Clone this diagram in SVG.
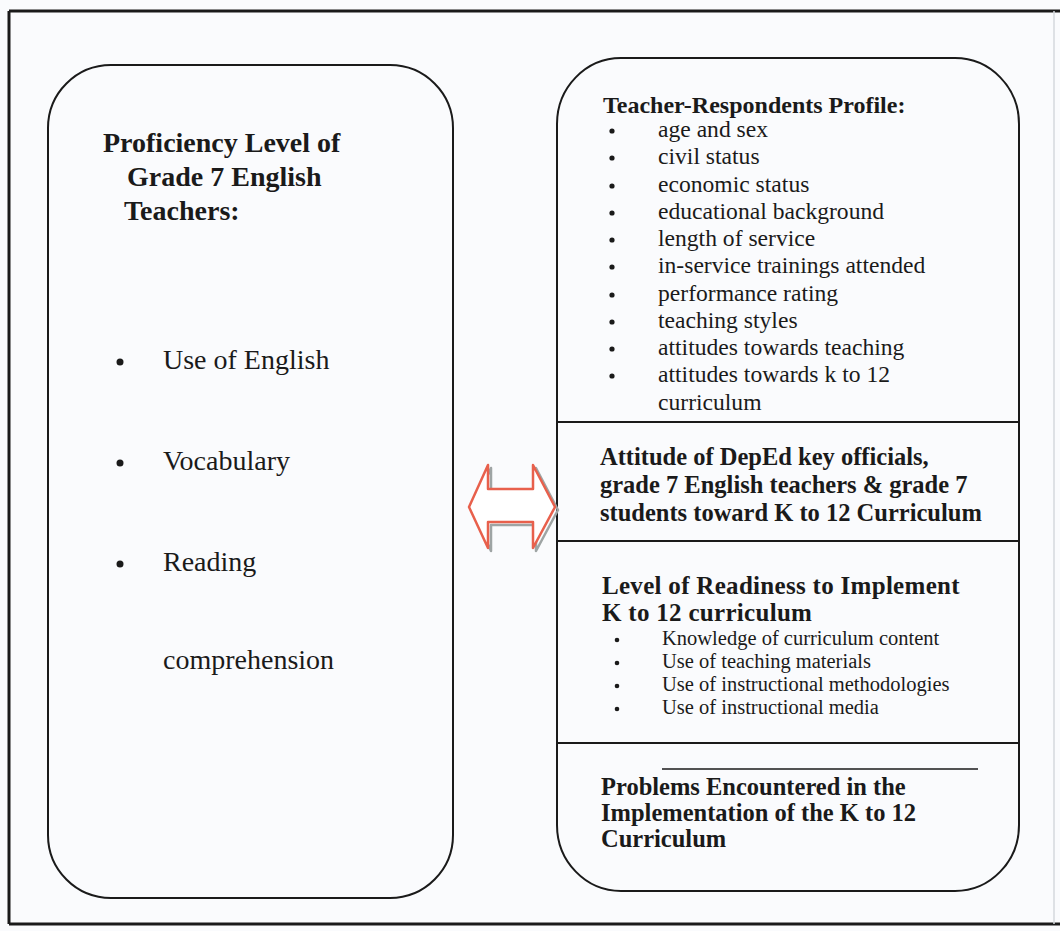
<svg xmlns="http://www.w3.org/2000/svg" width="1060" height="931" viewBox="0 0 1060 931">
  <style>
    .frame { stroke: #1a1a1a; stroke-width: 3; fill: none; }
    .box { stroke: #1a1a1a; stroke-width: 2; fill: none; }
    .rule { stroke: #1a1a1a; stroke-width: 2; }
    .dot { fill: #1a1a1a; }
    text { font-family: "Liberation Serif", "Times New Roman", serif; fill: #1a1a1a; }
    .title { font-weight: bold; }
    .big { font-size: 28px; }
    .item-lg { font-size: 28px; }
    .item { font-size: 23.6px; }
    .item-sm { font-size: 20.5px; }
  </style>

  <!-- page background and outer frame -->
  <rect x="0" y="0" width="1060" height="931" fill="#fafbfd"/>
  <line class="frame" x1="9" y1="11" x2="1060" y2="11"/>
  <line class="frame" x1="9" y1="11" x2="9" y2="924"/>
  <line class="frame" x1="9" y1="924" x2="1060" y2="924"/>
  <line x1="1054" y1="11" x2="1054" y2="924" stroke="#d4d8dc" stroke-width="1.5"/>

  <!-- left node: proficiency level -->
  <g id="proficiency">
    <rect class="box" x="48" y="65" width="405" height="833" rx="63" ry="63"/>
    <text class="title big" x="103" y="152">Proficiency Level of</text>
    <text class="title big" x="127" y="186">Grade 7 English</text>
    <text class="title big" x="124" y="220">Teachers:</text>
    <circle class="dot" cx="120" cy="362" r="3.5"/>
    <text class="item-lg" x="163" y="369">Use of English</text>
    <circle class="dot" cx="120" cy="463" r="3.5"/>
    <text class="item-lg" x="163" y="470">Vocabulary</text>
    <circle class="dot" cx="120" cy="564" r="3.5"/>
    <text class="item-lg" x="163" y="571">Reading</text>
    <text class="item-lg" x="163" y="669">comprehension</text>
  </g>

  <!-- right node: outer rounded container with its section rules -->
  <g id="variables">
    <rect class="box" x="557" y="58" width="462" height="833" rx="64" ry="66"/>
    <line class="rule" x1="557" y1="422" x2="1019" y2="422"/>
    <line class="rule" x1="557" y1="541" x2="1019" y2="541"/>
    <line class="rule" x1="557" y1="743" x2="1019" y2="743"/>
  </g>

  <!-- teacher-respondents profile section -->
  <g id="profile">
    <text class="title" x="603" y="113" font-size="24">Teacher-Respondents Profile:</text>
    <g class="dot">
      <circle cx="612" cy="131" r="2.6"/>
      <circle cx="612" cy="158" r="2.6"/>
      <circle cx="612" cy="186" r="2.6"/>
      <circle cx="612" cy="213" r="2.6"/>
      <circle cx="612" cy="240" r="2.6"/>
      <circle cx="612" cy="267" r="2.6"/>
      <circle cx="612" cy="295" r="2.6"/>
      <circle cx="612" cy="322" r="2.6"/>
      <circle cx="612" cy="349" r="2.6"/>
      <circle cx="612" cy="376" r="2.6"/>
    </g>
    <text class="item" x="658" y="137">age and sex</text>
    <text class="item" x="658" y="164">civil status</text>
    <text class="item" x="658" y="192">economic status</text>
    <text class="item" x="658" y="219">educational background</text>
    <text class="item" x="658" y="246">length of service</text>
    <text class="item" x="658" y="273">in-service trainings attended</text>
    <text class="item" x="658" y="301">performance rating</text>
    <text class="item" x="658" y="328">teaching styles</text>
    <text class="item" x="658" y="355">attitudes towards teaching</text>
    <text class="item" x="658" y="382">attitudes towards k to 12</text>
    <text class="item" x="658" y="410">curriculum</text>
  </g>

  <!-- attitude section -->
  <g id="attitude">
    <text class="title" x="600" y="465" font-size="24.5">Attitude of DepEd key officials,</text>
    <text class="title" x="600" y="493" font-size="24.5">grade 7 English teachers &amp; grade 7</text>
    <text class="title" x="600" y="521" font-size="24.5">students toward K to 12 Curriculum</text>
  </g>

  <!-- readiness section -->
  <g id="readiness">
    <text class="title" x="602" y="594" font-size="25" letter-spacing="0.3">Level of Readiness to Implement</text>
    <text class="title" x="602" y="621" font-size="25" letter-spacing="0.3">K to 12 curriculum</text>
    <g class="dot">
      <circle cx="617" cy="640" r="2.3"/>
      <circle cx="617" cy="663" r="2.3"/>
      <circle cx="617" cy="686" r="2.3"/>
      <circle cx="617" cy="709" r="2.3"/>
    </g>
    <text class="item-sm" x="662" y="645">Knowledge of curriculum content</text>
    <text class="item-sm" x="662" y="668">Use of teaching materials</text>
    <text class="item-sm" x="662" y="691">Use of instructional methodologies</text>
    <text class="item-sm" x="662" y="714">Use of instructional media</text>
  </g>

  <!-- problems section -->
  <g id="problems">
    <line x1="662" y1="769" x2="978" y2="769" stroke="#1a1a1a" stroke-width="1.5"/>
    <text class="title" x="601" y="795" font-size="24.5">Problems Encountered in the</text>
    <text class="title" x="601" y="821" font-size="24.5">Implementation of the K to 12</text>
    <text class="title" x="601" y="847" font-size="24.5">Curriculum</text>
  </g>

  <!-- connectors: two-way block arrow between the nodes -->
  <g id="connectors">
    <polygon points="469,507 488,465 488,489 533,489 533,465 555,507 533,548 533,522 488,522 488,548"
             transform="translate(3,3)" fill="none" stroke="#9ea4a4" stroke-width="2.5" stroke-linejoin="round"/>
    <polygon points="469,507 488,465 488,489 533,489 533,465 555,507 533,548 533,522 488,522 488,548"
             fill="#ffffff" stroke="#e8604c" stroke-width="2.5" stroke-linejoin="round"/>
  </g>
</svg>
